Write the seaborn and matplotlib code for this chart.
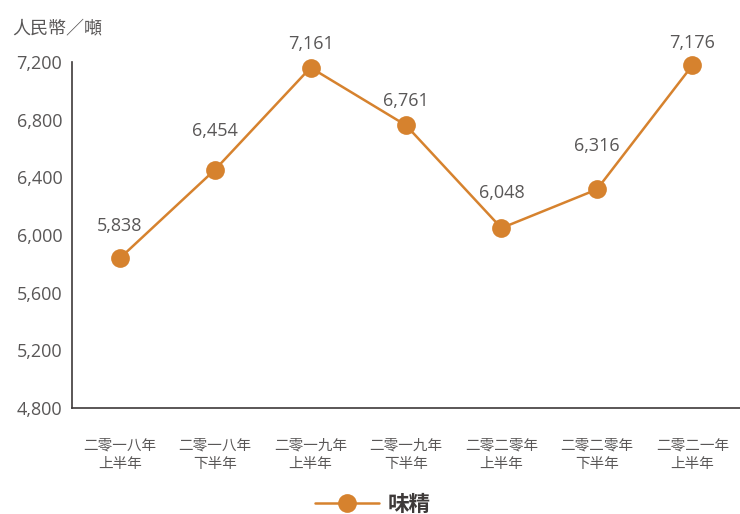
import matplotlib
matplotlib.use("Agg")
import matplotlib.pyplot as plt
import seaborn as sns
import pandas as pd

periods = ["二零一八年\n上半年", "二零一八年\n下半年", "二零一九年\n上半年", "二零一九年\n下半年",
           "二零二零年\n上半年", "二零二零年\n下半年", "二零二一年\n上半年"]
prices = [5838, 6454, 7161, 6761, 6048, 6316, 7176]
yticks = [4800, 5200, 5600, 6000, 6400, 6800, 7200]
series_name = "味精"
unit_label = "人民幣／噸"

orange = "#D6822E"
grey = "#595757"
dark = "#3E3A39"

sns.set_theme(style="white")
plt.rcParams["font.family"] = ["Open Sans", "Noto Sans CJK SC", "DejaVu Sans"]

df = pd.DataFrame({"period": periods, "price": prices, "series": series_name})

fig = plt.figure(figsize=(7.4, 5.14), dpi=100)
ax = fig.add_axes([72 / 740, 1 - 408 / 514, 668 / 740, (408 - 62) / 514])

sns.lineplot(data=df, x="period", y="price", hue="series", palette=[orange],
             marker="o", markersize=13.5, linewidth=1.8, markeredgewidth=0,
             sort=False, ax=ax)
for ln in ax.lines:
    ln.set_clip_on(False)

# label offsets above each point (pixels)
offsets = [32, 39, 24, 24, 35, 43, 22]
for i, (v, off) in enumerate(zip(prices, offsets)):
    ax.annotate(f"{v:,}", (i, v), xytext=(0, off), textcoords="offset pixels",
                ha="center", va="center", fontsize=13, color=grey)

ax.set_xlim(-0.5, 6.5)
ax.set_ylim(4800, 7200)
ax.set_yticks(yticks)
ax.set_yticklabels([f"{t:,}" for t in yticks])
ax.tick_params(axis="y", length=0, pad=7, labelsize=13, labelcolor=grey)
ax.tick_params(axis="x", length=0, pad=22, labelsize=10.5, labelcolor=grey)
for lbl in ax.get_xticklabels():
    lbl.set_linespacing(1.3)
ax.set_xlabel("")
ax.set_ylabel("")
for s in ["top", "right"]:
    ax.spines[s].set_visible(False)
for s in ["left", "bottom"]:
    ax.spines[s].set_color(dark)
    ax.spines[s].set_linewidth(1.2)

fig.text(12 / 740, 1 - 28 / 514, unit_label, fontsize=13, color=grey, va="center", ha="left")

leg = ax.legend(loc="center", bbox_to_anchor=(373 / 740, 1 - 505 / 514),
                bbox_transform=fig.transFigure, frameon=False, handlelength=3.0,
                handletextpad=0.4, prop={"size": 15.5, "weight": "bold"})
for t in leg.get_texts():
    t.set_color(dark)

fig.savefig("out.png", dpi=100)
